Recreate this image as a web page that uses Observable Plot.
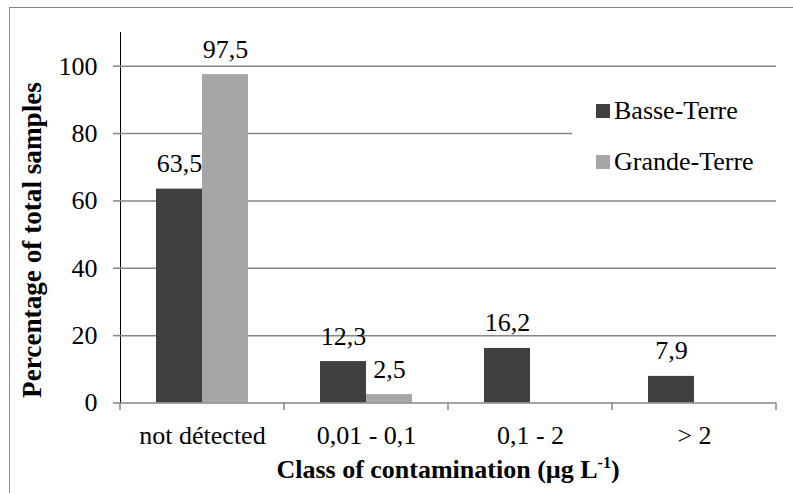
<!DOCTYPE html>
<html><head><meta charset="utf-8">
<script src="https://cdn.jsdelivr.net/npm/d3@7"></script>
<script src="https://cdn.jsdelivr.net/npm/@observablehq/plot@0.6"></script>
<style>
body{margin:0;background:#fff;}
#wrap{position:relative;width:793px;height:493px;overflow:hidden;font-family:'Liberation Serif',serif;color:#000;}
#border{position:absolute;left:9px;top:6.5px;width:800px;height:500px;border-top:1.5px solid #868686;border-left:1.5px solid #868686;}
#chart{position:absolute;left:0;top:0;}
#chart svg [aria-label^="y-axis"] line,#chart svg [aria-label^="y-axis"] path{stroke:#868686 !important;stroke-width:1.5px;}
#legend{position:absolute;left:572px;top:90px;width:215px;height:95px;background:#fff;}
.item{position:absolute;font-family:'Liberation Serif',serif;font-size:26px;line-height:1;white-space:nowrap;}
.sw{position:absolute;width:14px;height:14px;}
#xtitle{position:absolute;left:448px;top:455px;transform:translateX(-50%);font-family:'Liberation Serif',serif;font-weight:bold;font-size:26px;white-space:nowrap;}
#xtitle sup{font-size:16px;vertical-align:10px;line-height:0;}
#ytitle{position:absolute;left:32px;top:239.5px;transform:translate(-50%,-50%) rotate(-90deg);font-family:'Liberation Serif',serif;font-weight:bold;font-size:27.2px;white-space:nowrap;}
</style></head><body>
<div id="wrap">
<div id="border"></div>
<div id="chart"></div>
<div id="legend"></div>
<div id="ytitle">Percentage of total samples</div>
<div id="xtitle">Class of contamination (µg L<sup>-1</sup>)</div>
</div>
<script>
const categories = ["not détected", "0,01 - 0,1", "0,1 - 2", "> 2"];
const series = ["Basse-Terre", "Grande-Terre"];
const basseTerre = [63.5, 12.3, 16.2, 7.9];
const grandeTerre = [97.5, 2.5, 0, 0];
const yTicks = [0, 20, 40, 60, 80, 100];
const colors = ["#404040", "#a6a6a6"];

const data = categories.flatMap((c, i) => [
  {cat: c, series: series[0], value: basseTerre[i]},
  {cat: c, series: series[1], value: grandeTerre[i]}
]);
const fmt = v => v.toFixed(1).replace(".", ",");
const FONT = "'Liberation Serif', serif";

const chart = Plot.plot({
  width: 793, height: 493,
  marginLeft: 119, marginRight: 16, marginTop: 32, marginBottom: 90.5,
  style: {fontFamily: FONT, fontSize: "26px", background: "transparent", color: "#000", overflow: "visible"},
  fx: {domain: categories, padding: 0, label: null, axis: "bottom", tickSize: 0, tickPadding: 23},
  x: {domain: series, paddingInner: 0, paddingOuter: 0.77, axis: null},
  y: {domain: [0, 110], ticks: yTicks, tickSize: 7, tickPadding: 16, label: null, line: true, tickFormat: d => String(d)},
  color: {domain: series, range: colors},
  marks: [
    Plot.ruleY(yTicks.slice(1), {stroke: "#868686", strokeWidth: 1.5}),
    Plot.barY(data, {fx: "cat", x: "series", y: "value", fill: "series"}),
    Plot.ruleY([0], {stroke: "#868686", strokeWidth: 1.5}),
    Plot.text(data.filter(d => d.value > 0), {fx: "cat", x: "series", y: "value", text: d => fmt(d.value), lineAnchor: "bottom", dy: -17, fontSize: 26, fill: "#000"})
  ]
});
document.getElementById("chart").appendChild(chart);
d3.select(chart).selectAll("text").style("font-size", "26px");

// category boundary ticks on the x axis
const fxs = chart.scale("fx"), ys = chart.scale("y");
const y0 = ys.apply(0);
const bounds = categories.map(c => fxs.apply(c)).concat([fxs.apply(categories[categories.length - 1]) + fxs.bandwidth]);
d3.select(chart).append("g").selectAll("line").data(bounds).join("line")
  .attr("x1", d => d).attr("x2", d => d).attr("y1", y0).attr("y2", y0 + 7.5)
  .attr("stroke", "#868686").attr("stroke-width", 1.5);

// legend
const lg = d3.select("#legend");
series.forEach((s, i) => {
  const top = [14, 65][i];
  lg.append("div").attr("class", "sw").style("left", "24px").style("top", top + "px").style("background", colors[i]);
  lg.append("div").attr("class", "item").style("left", "42px").style("top", (top - 6) + "px").text(s);
});
</script>
</body></html>
